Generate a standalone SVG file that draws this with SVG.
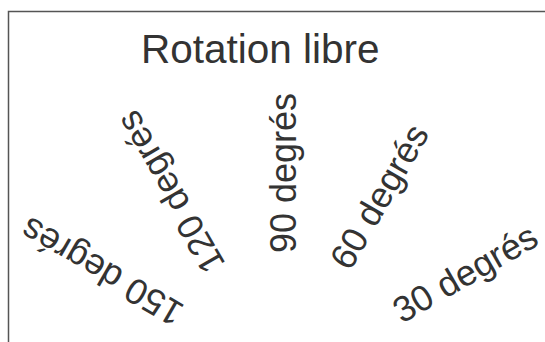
<svg xmlns="http://www.w3.org/2000/svg" width="545" height="342" viewBox="0 0 545 342">
<style>
.t{font-family:"Liberation Sans",Arial,sans-serif;fill:#333}
.r{font-size:36px}
</style>
<rect width="545" height="342" fill="#fff"/>
<path d="M8.5 342V11.5H545" fill="none" stroke="#555" stroke-width="1.5"/>
<g id="title"><text class="t" x="141" y="63" font-size="40.5">Rotation libre</text></g>
<g id="r30"><text class="t r" transform="translate(402,324) rotate(-30)">30 degrés</text></g>
<g id="r60"><text class="t r" transform="translate(350,272) rotate(-60)">60 degrés</text></g>
<g id="r90"><text class="t r" transform="translate(296,253) rotate(-90)">90 degrés</text></g>
<g id="r120"><text class="t r" transform="translate(226,264) rotate(-120)">120 degrés</text></g>
<g id="r150"><text class="t r" transform="translate(186,306) rotate(-150)">150 degrés</text></g>
</svg>
